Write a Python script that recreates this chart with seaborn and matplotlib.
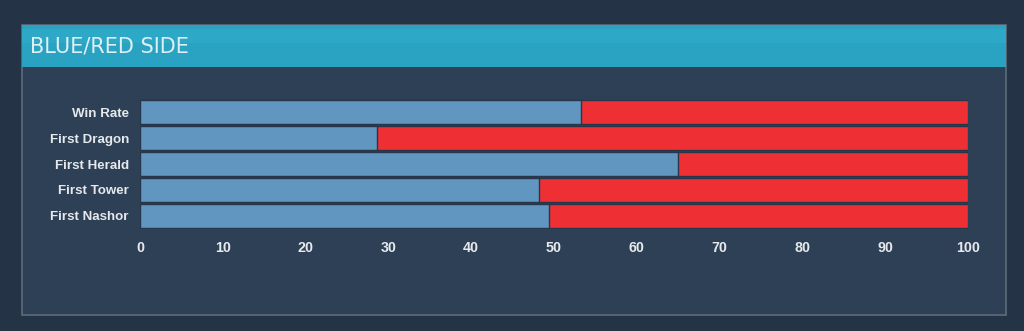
import matplotlib
matplotlib.use("Agg")
import matplotlib.pyplot as plt
import seaborn as sns
import pandas as pd
from matplotlib.patches import Rectangle

categories = ["Win Rate", "First Dragon", "First Herald", "First Tower", "First Nashor"]
blue_side = [53.3, 28.6, 65.0, 48.2, 49.4]
red_side = [46.7, 71.4, 35.0, 51.8, 50.6]
x_ticks = [0, 10, 20, 30, 40, 50, 60, 70, 80, 90, 100]
title = "BLUE/RED SIDE"

BG = "#243346"
PANEL = "#2d4056"
HEADER = "#2aa3c2"
BLUE = "#6096c0"
RED = "#ee3034"
EDGE = "#27364a"
TXT = "#e6e9ec"

sns.set_theme(style="dark")
plt.rcParams["font.family"] = ["Liberation Sans", "DejaVu Sans"]

W, H = 1024, 331
fig = plt.figure(figsize=(W / 100, H / 100), dpi=100)
fig.patch.set_facecolor(BG)

def px(x, y, w, h):
    return (x / W, 1 - (y + h) / H, w / W, h / H)

# panel body and header
l, b, w, h = px(22, 25, 984, 290)
fig.patches.append(Rectangle((l, b), w, h, transform=fig.transFigure,
                             facecolor=PANEL, edgecolor="#5d6c7a", linewidth=1.2, zorder=-3))
l, b, w, h = px(22, 25, 984, 42)
fig.patches.append(Rectangle((l, b), w, h, transform=fig.transFigure,
                             facecolor=HEADER, edgecolor="none", zorder=-2))
l, b, w, h = px(22, 29, 984, 14)
fig.patches.append(Rectangle((l, b), w, h, transform=fig.transFigure,
                             facecolor="#30acc9", edgecolor="none", zorder=-1, alpha=0.6))
fig.text(30 / W, 1 - 47 / H, title, color="#dcf0f5", fontsize=15,
         family="DejaVu Sans", va="center", ha="left", zorder=2)

df = pd.DataFrame({"cat": categories, "blue": blue_side, "red": red_side})
df["total"] = df["blue"] + df["red"]

ax = fig.add_axes(px(140, 99, 828, 130))
ax.set_zorder(1)
ax.set_facecolor("none")
sns.barplot(data=df, y="cat", x="total", color=RED, saturation=1, width=0.93,
            edgecolor=EDGE, linewidth=1.0, ax=ax, orient="h")
sns.barplot(data=df, y="cat", x="blue", color=BLUE, saturation=1, width=0.93,
            edgecolor=EDGE, linewidth=1.0, ax=ax, orient="h")

ax.set_xlim(0, 100)
ax.set_ylim(4.5, -0.5)
ax.set_xticks(x_ticks)
ax.set_xticklabels([str(t) for t in x_ticks])
ax.set_xlabel("")
ax.set_ylabel("")
ax.grid(False)
for s in ax.spines.values():
    s.set_visible(False)
ax.tick_params(axis="both", length=0, colors=TXT)
ax.tick_params(axis="x", pad=9, labelsize=10.3)
ax.tick_params(axis="y", pad=8, labelsize=9.6)
for lab in ax.get_xticklabels() + ax.get_yticklabels():
    lab.set_fontweight("bold")
    lab.set_color(TXT)

fig.savefig("out.png", dpi=100, facecolor=BG)
